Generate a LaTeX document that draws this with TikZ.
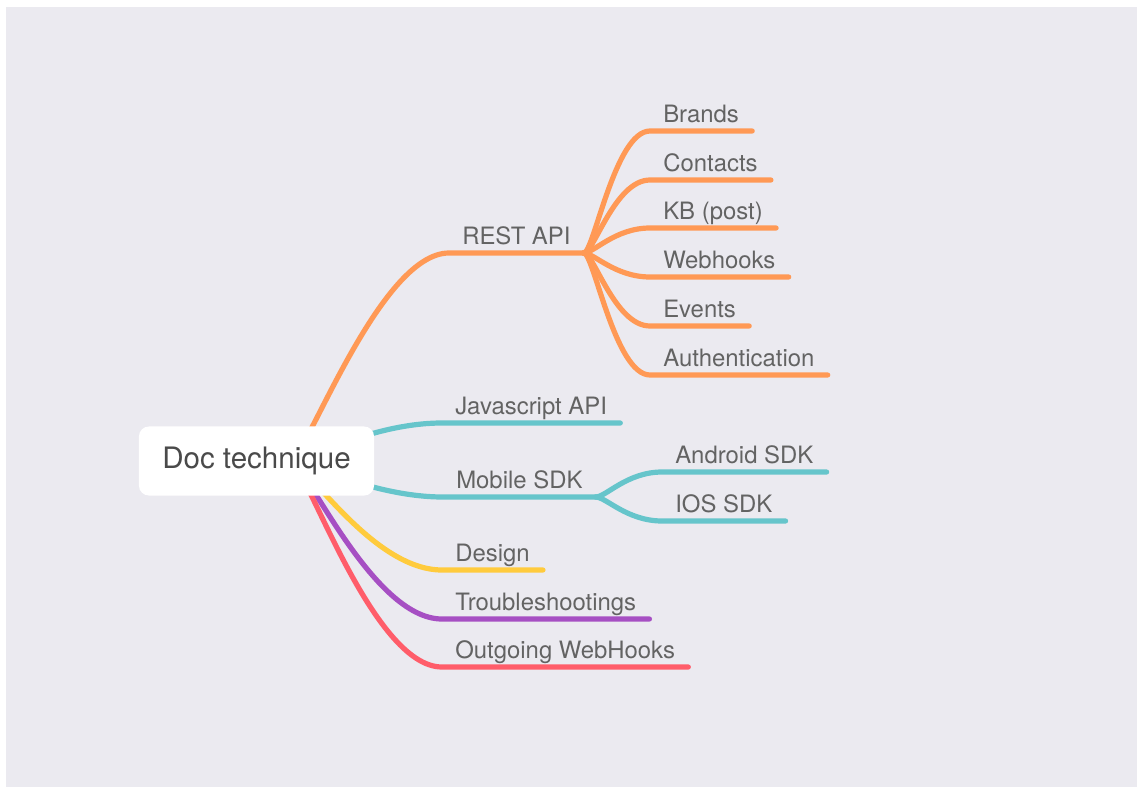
\documentclass[tikz,border=0pt]{standalone}
\usepackage{fontspec}
\setmainfont{TeX Gyre Heros}
\usetikzlibrary{positioning}
\definecolor{backgray}{HTML}{EBEAF0}
\definecolor{labelgray}{HTML}{636363}
\definecolor{rootgray}{HTML}{4A4A4A}
\definecolor{restorange}{HTML}{FF9955}
\definecolor{sdkteal}{HTML}{66C5CB}
\definecolor{designyellow}{HTML}{FFCB3D}
\definecolor{troublepurple}{HTML}{A64FC3}
\definecolor{hookred}{HTML}{FF5D6A}
\pgfdeclarelayer{backdrop}
\pgfdeclarelayer{links}
\pgfsetlayers{backdrop,links,main}

\begin{document}
\begin{tikzpicture}
      [x = 0.025cm,
      y = -0.025cm,
      link/.style = {
         line width = 3.7pt,
         line cap = round
      },
      topic/.style = {
         anchor = south west,
         inner xsep = 9.25pt,
         inner ysep = 0pt,
         text depth = 5.7pt,
         text = labelgray,
         font = \fontsize{17}{20}\selectfont
      },
      rootbox/.style = {
         fill = white,
         rounded corners = 7pt,
         minimum width = 5.875cm,
         minimum height = 1.725cm,
         text = rootgray,
         font = \fontsize{21}{25}\selectfont
      }]
      \useasboundingbox (0, 0) rectangle (1138, 789);
      \begin{pgfonlayer}{backdrop}
         \fill[backgray] (6, 7) rectangle (1137, 787);
      \end{pgfonlayer}

      \node[rootbox] (doc) at (256.5, 461) {Doc technique};
      \coordinate (docout) at (290, 461);

      \node[topic] (rest) at (449, 253) {REST API};
      \node[topic] (brands) at (650, 131) {Brands};
      \node[topic] (contacts) at (650, 180) {Contacts};
      \node[topic] (kb) at (650, 228) {KB (post)};
      \node[topic] (webhooks) at (650, 277) {Webhooks};
      \node[topic] (events) at (650, 326) {Events};
      \node[topic] (auth) at (650, 375) {Authentication};

      \node[topic] (jsapi) at (442, 423) {Javascript API};
      \node[topic] (mobile) at (443, 497) {Mobile SDK};
      \node[topic] (android) at (662, 472) {Android SDK};
      \node[topic] (ios) at (662, 521) {IOS SDK};

      \node[topic] (design) at (442, 570) {Design};
      \node[topic] (trouble) at (442, 619) {Troubleshootings};
      \node[topic] (outgoing) at (442, 667) {Outgoing WebHooks};

      \begin{pgfonlayer}{links}
         \draw[link, restorange] (docout) .. controls +(15, 0) and +(-70, 0) .. (rest.south west) -- (rest.south east);
         \draw[link, restorange] (rest.south east) .. controls +(10, 0) and +(-35, 0) .. (brands.south west) -- (brands.south east);
         \draw[link, restorange] (rest.south east) .. controls +(10, 0) and +(-35, 0) .. (contacts.south west) -- (contacts.south east);
         \draw[link, restorange] (rest.south east) .. controls +(10, 0) and +(-35, 0) .. (kb.south west) -- (kb.south east);
         \draw[link, restorange] (rest.south east) .. controls +(10, 0) and +(-35, 0) .. (webhooks.south west) -- (webhooks.south east);
         \draw[link, restorange] (rest.south east) .. controls +(10, 0) and +(-35, 0) .. (events.south west) -- (events.south east);
         \draw[link, restorange] (rest.south east) .. controls +(10, 0) and +(-35, 0) .. (auth.south west) -- (auth.south east);

         \draw[link, sdkteal] (docout) .. controls +(15, 0) and +(-70, 0) .. (jsapi.south west) -- (jsapi.south east);
         \draw[link, sdkteal] (docout) .. controls +(15, 0) and +(-70, 0) .. (mobile.south west) -- (mobile.south east);
         \draw[link, sdkteal] (mobile.south east) .. controls +(10, 0) and +(-35, 0) .. (android.south west) -- (android.south east);
         \draw[link, sdkteal] (mobile.south east) .. controls +(10, 0) and +(-35, 0) .. (ios.south west) -- (ios.south east);

         \draw[link, designyellow] (docout) .. controls +(15, 0) and +(-70, 0) .. (design.south west) -- (design.south east);
         \draw[link, troublepurple] (docout) .. controls +(15, 0) and +(-70, 0) .. (trouble.south west) -- (trouble.south east);
         \draw[link, hookred] (docout) .. controls +(15, 0) and +(-70, 0) .. (outgoing.south west) -- (outgoing.south east);
      \end{pgfonlayer}

   \end{tikzpicture}
\end{document}
